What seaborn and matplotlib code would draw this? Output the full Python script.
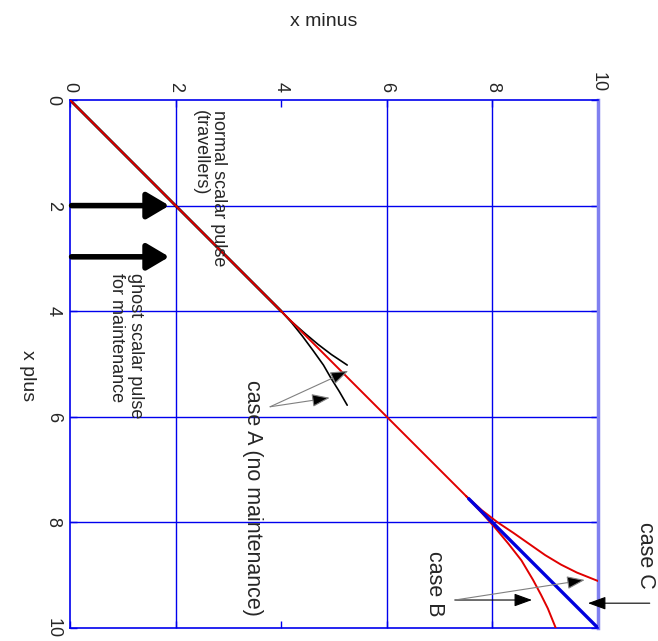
import matplotlib
matplotlib.use("Agg")
import matplotlib.pyplot as plt
import seaborn as sns
import pandas as pd

# ---- data: characteristics in the (x minus, x plus) plane ----
diag_red_xm = [0.0, 7.5]
diag_red_xp = [0.0, 7.5]
diag_black_xm = [0.0, 4.0]
diag_black_xp = [0.0, 4.0]

caseA_up_xm = [4.0, 4.2, 4.45, 4.7, 4.95, 5.1, 5.25]
caseA_up_xp = [4.0, 4.2, 4.42, 4.63, 4.82, 4.92, 5.02]
caseA_lo_xm = [4.0, 4.2, 4.4, 4.6, 4.8, 4.95, 5.1, 5.25]
caseA_lo_xp = [4.0, 4.22, 4.47, 4.74, 5.02, 5.28, 5.52, 5.78]

caseB_up_xm = [7.5, 7.8, 8.1, 8.4, 8.7, 9.0, 9.3, 9.6, 9.8, 10.0]
caseB_up_xp = [7.5, 7.77, 8.0, 8.2, 8.41, 8.62, 8.8, 8.95, 9.03, 9.11]
caseB_lo_xm = [7.5, 7.8, 8.05, 8.3, 8.55, 8.77, 8.92, 9.05, 9.2]
caseB_lo_xp = [7.5, 7.82, 8.1, 8.4, 8.72, 9.09, 9.37, 9.63, 10.0]

caseC_xm = [7.55, 10.0]
caseC_xp = [7.55, 10.0]

ticks = [0, 2, 4, 6, 8, 10]
grid_xm = [2, 6, 8]
grid_xp = [2, 4, 6, 8]

sns.set_style("white")
plt.rcParams["font.family"] = ["Liberation Sans", "DejaVu Sans"]

fig = plt.figure(figsize=(6.58, 6.41), dpi=100)
ax = fig.add_axes([70 / 658, 13 / 641, 528 / 658, 528 / 641])

# grid
for g in grid_xm:
    ax.axvline(g, color="#0000ee", lw=1.0, zorder=0)
for g in grid_xp:
    ax.axhline(g, color="#0000ee", lw=1.0, zorder=0)


def curve(xm, xp, color, lw, z):
    df = pd.DataFrame({"xm": xm, "xp": xp})
    sns.lineplot(data=df, x="xm", y="xp", sort=False, estimator=None,
                 color=color, lw=lw, ax=ax, zorder=z)


curve(diag_black_xm, diag_black_xp, "black", 2.0, 2)
curve(caseA_up_xm, caseA_up_xp, "black", 1.2, 2)
curve(caseA_lo_xm, caseA_lo_xp, "black", 1.2, 2)
curve(diag_red_xm, diag_red_xp, "#e00000", 1.4, 3)
curve(caseB_up_xm, caseB_up_xp, "#e00000", 1.4, 3)
curve(caseB_lo_xm, caseB_lo_xp, "#e00000", 1.4, 3)
curve(caseC_xm, caseC_xp, "#0000dd", 2.4, 4)

ax.set_xlim(0, 10)
ax.set_ylim(10, 0)
ax.set_xticks(ticks)
ax.set_yticks(ticks)
ax.set_xticklabels([str(t) for t in ticks], rotation=-90, fontsize=13)
ax.set_yticklabels([str(t) for t in ticks], rotation=-90, fontsize=13, va="center")
ax.xaxis.tick_top()
ax.tick_params(axis="both", which="both", direction="in", length=5, width=1,
               color="#0000ee", top=True, bottom=True, left=True, right=True,
               labeltop=True, labelbottom=False, labelleft=True, labelright=False,
               pad=6)
ax.set_xlabel("")
ax.set_ylabel("")
for side in ["top", "bottom", "left"]:
    ax.spines[side].set_color("#0000ee")
    ax.spines[side].set_linewidth(1.2)
ax.spines["right"].set_color("#8080f0")
ax.spines["right"].set_linewidth(2.5)

# axis titles
fig.text(324 / 658, 1 - 22 / 641, "x minus", ha="center", va="center", fontsize=14)
fig.text(27 / 658, 1 - 376 / 641, "x plus", ha="center", va="center",
         fontsize=14, rotation=-90)

# thick pulse arrows
for yp in [2.0, 2.97]:
    ax.annotate("", xy=(1.88, yp), xytext=(0.03, yp),
                arrowprops=dict(arrowstyle="-|>,head_length=1.35,head_width=0.8",
                                lw=4, color="black", shrinkA=0, shrinkB=0),
                annotation_clip=False, zorder=5)

ax.text(2.64, 0.19, "normal scalar pulse\n(travellers)", rotation=-90,
        ha="center", va="top", multialignment="left", fontsize=13,
        linespacing=1.15, zorder=6)
ax.text(1.06, 3.27, "ghost scalar pulse\nfor maintenance", rotation=-90,
        ha="center", va="top", multialignment="left", fontsize=13,
        linespacing=1.15, zorder=6)

ax.text(3.45, 5.3, "case A (no maintenance)", rotation=-90, ha="center",
        va="top", fontsize=15.5, zorder=6)
ax.text(6.9, 8.55, "case B", rotation=-90, ha="center", va="top",
        fontsize=15.5, zorder=6)
ax.text(10.9, 8.0, "case C", rotation=-90, ha="center", va="top",
        fontsize=15.5, zorder=6, clip_on=False)


def pointer(tail, tip, shaft="black"):
    ax.annotate("", xy=tip, xytext=tail,
                arrowprops=dict(arrowstyle="-|>,head_length=1.1,head_width=0.4",
                                lw=0.8, edgecolor=shaft,
                                facecolor="black", shrinkA=0, shrinkB=0),
                annotation_clip=False, zorder=6)


pointer((3.79, 5.81), (5.27, 5.13), "gray")
pointer((3.79, 5.81), (4.92, 5.64), "gray")
pointer((7.29, 9.47), (8.75, 9.47), "black")
pointer((7.29, 9.47), (9.75, 9.09), "gray")
pointer((10.98, 9.53), (9.81, 9.53), "black")

fig.savefig("out.png", dpi=100)
